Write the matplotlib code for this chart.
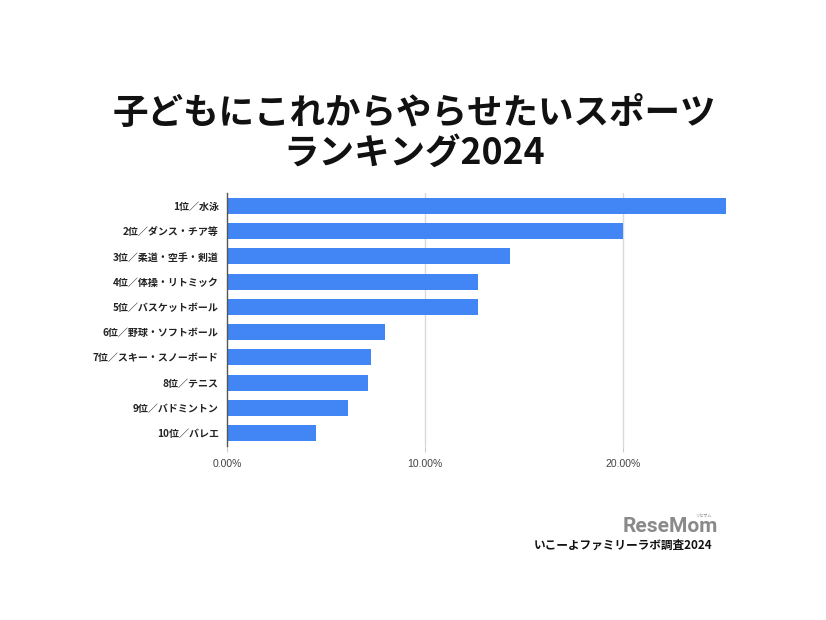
import matplotlib
matplotlib.use("Agg")
import matplotlib.pyplot as plt
from matplotlib.ticker import FuncFormatter

plt.rcParams['font.family'] = ['Noto Sans CJK JP', 'DejaVu Sans']

# データ（割合 %）
labels = ["1位／水泳", "2位／ダンス・チア等", "3位／柔道・空手・剣道",
          "4位／体操・リトミック", "5位／バスケットボール", "6位／野球・ソフトボール",
          "7位／スキー・スノーボード", "8位／テニス", "9位／バドミントン", "10位／バレエ"]
values = [25.2, 20.0, 14.3, 12.7, 12.7, 8.0, 7.3, 7.1, 6.1, 4.5]
xticks = [0, 10, 20]

fig = plt.figure(figsize=(8.26, 6.2), dpi=100)
ax = fig.add_axes([0.2748, 0.2813, 0.647, 0.4068])

y = list(range(len(labels)))
ax.barh(y, values, height=0.635, color="#4285F4", zorder=3)
ax.set_ylim(len(labels) - 0.5, -0.5)
ax.set_xlim(0, 27)

ax.set_yticks(y)
ax.set_yticklabels(labels, fontsize=7.2, fontweight='bold', color="#222222")
ax.tick_params(axis='y', length=0, pad=6)

ax.set_xticks(xticks)
ax.xaxis.set_major_formatter(FuncFormatter(lambda v, p: "%.2f%%" % v))
ax.tick_params(axis='x', length=4, color="#cccccc", labelsize=7.5,
               labelcolor="#444444", pad=6)
for lab in ax.get_xticklabels():
    lab.set_family(['Liberation Sans', 'DejaVu Sans'])

# グリッド
for xv in xticks[1:]:
    ax.axvline(xv, color="#d9d9d9", lw=1, zorder=1)

for s in ["top", "right", "bottom"]:
    ax.spines[s].set_visible(False)
ax.spines["left"].set_color("#555555")
ax.spines["left"].set_linewidth(1)
ax.spines["left"].set_zorder(4)

# タイトル
fig.text(0.502, 1 - 113 / 620, "子どもにこれからやらせたいスポーツ", ha='center', va='center',
         fontsize=25.6, fontweight='bold', color="#111111")
fig.text(0.502, 1 - 153 / 620, "ランキング2024", ha='center', va='center',
         fontsize=25.6, fontweight='bold', color="#111111")

# クレジット
fig.text(718 / 826, 1 - 527 / 620, "ReseMom", ha='right', va='center',
         fontsize=15, fontweight='bold', color="#8a8a8a", family=['Roboto', 'DejaVu Sans'])
fig.text(712 / 826, 1 - 516 / 620, "リセマム", ha='right', va='center',
         fontsize=3, color="#8a8a8a")
fig.text(712 / 826, 1 - 545 / 620, "いこーよファミリーラボ調査2024", ha='right', va='center',
         fontsize=8.4, fontweight='bold', color="#111111")

fig.savefig("out.png", dpi=100)
